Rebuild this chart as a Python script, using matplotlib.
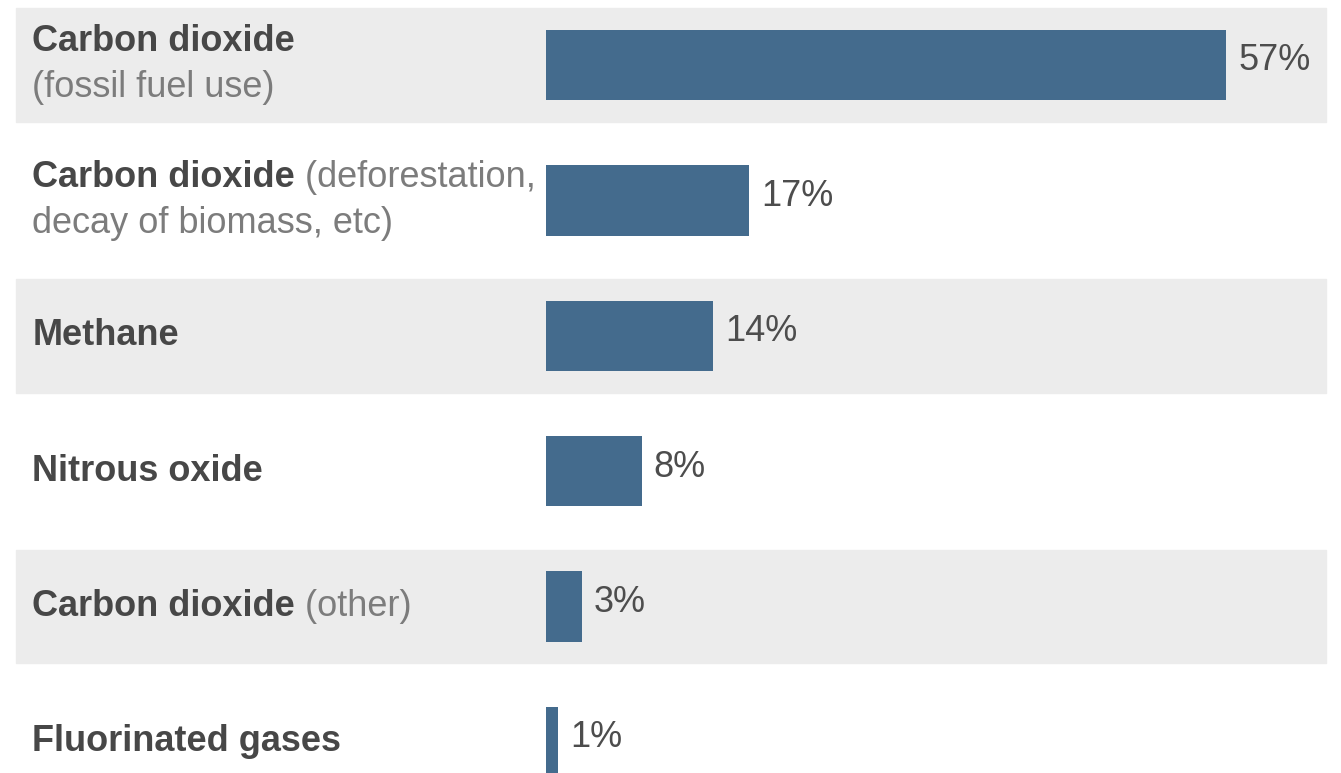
"""Greenhouse gas emissions by gas, horizontal bar chart with banded rows."""

import matplotlib.pyplot as plt
import numpy as np

labels_bold = ["Carbon dioxide", "Carbon dioxide", "Methane", "Nitrous oxide",
               "Carbon dioxide", "Fluorinated gases"]
labels_inline = ["", "(deforestation,", "", "", "(other)", ""]
labels_second = ["(fossil fuel use)", "decay of biomass, etc)", "", "", "", ""]
shares = [57, 17, 14, 8, 3, 1]

plt.rcParams["font.family"] = ["Liberation Sans", "DejaVu Sans"]

BAR_COLOR = "#446b8d"
BAND_COLOR = "#ececec"
DARK = "#474747"
LIGHT = "#7c7c7c"
FS = 26


def main():
    fig = plt.figure(figsize=(13.41, 7.73), dpi=100)
    ax = fig.add_axes([0, 0, 1, 1])
    ax.set_xlim(-45.8, 66.6)
    ax.set_ylim(5.23, -0.48)
    ax.axis("off")

    y = np.arange(len(shares))

    # grey bands on every other row
    for i in y[::2]:
        ax.axhspan(i - 0.42, i + 0.42, xmin=0.012, xmax=0.989,
                   color=BAND_COLOR, zorder=0)

    ax.barh(y, shares, height=0.52, color=BAR_COLOR, zorder=2)

    for i, v in enumerate(shares):
        ax.text(v + 1.0, i - 0.03, f"{v}%", ha="left", va="center",
                fontsize=FS, color="#4d4d4d", zorder=3)

    x_lab = -43.1
    for i in y:
        two_lines = labels_second[i] != ""
        y1 = i - 0.17 if two_lines else i
        t = ax.text(x_lab, y1, labels_bold[i], ha="left", va="center",
                    fontsize=FS, fontweight="bold", color=DARK)
        if labels_inline[i]:
            ax.annotate(" " + labels_inline[i], xy=(1, 0), xycoords=t,
                        ha="left", va="bottom", fontsize=FS, color=LIGHT)
        if two_lines:
            ax.text(x_lab, i + 0.17, labels_second[i], ha="left", va="center",
                    fontsize=FS, color=LIGHT)

    fig.savefig("out.png", dpi=100)


if __name__ == "__main__":
    main()
